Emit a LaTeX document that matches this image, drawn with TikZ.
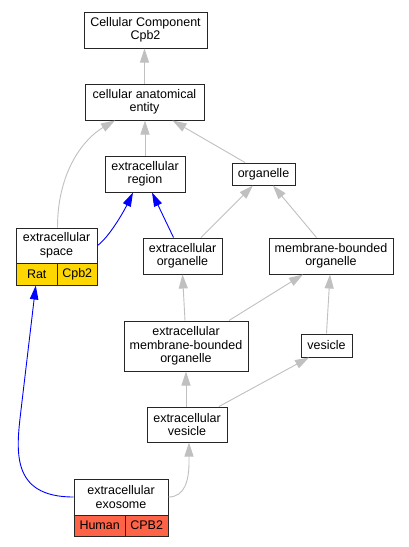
\documentclass[tikz,border=0pt]{standalone}
\usepackage{fontspec}
\setmainfont{Liberation Sans}
\usetikzlibrary{arrows.meta}
\definecolor{edgegray}{HTML}{C0C0C0}
\definecolor{goldfill}{HTML}{FFD700}
\definecolor{tomatofill}{HTML}{FF6347}
\tikzset{
  box/.style={draw=black!85, line width=1pt, fill=white, inner sep=0pt, align=center,
    font=\fontsize{12.5}{13.5}\selectfont},
  isa/.style={draw=edgegray, line width=0.9pt, -{Triangle[length=14pt,width=9pt]}, color=edgegray},
  blueedge/.style={draw=blue, line width=0.9pt, -{Triangle[length=14pt,width=8.5pt]}, color=blue},
}
\begin{document}
\begin{tikzpicture}[x=1pt,y=-1pt]
\useasboundingbox[fill=white] (0,0) rectangle (408,547);
% nodes
\node[box, minimum width=123, minimum height=36] (cc) at (145.5,30) {Cellular Component\\Cpb2};
\node[box, minimum width=119, minimum height=36] (cae) at (144.5,102) {cellular anatomical\\entity};
\node[box, minimum width=80, minimum height=36] (er) at (145,174) {extracellular\\region};
\node[box, minimum width=63, minimum height=22] (org) at (263.5,174) {organelle};
\node[box, minimum width=81, minimum height=35] (spc) at (56.5,245.5) {extracellular\\space};
\node[box, fill=goldfill, minimum width=41.5, minimum height=22] (rat) at (36.75,274) {Rat};
\node[box, fill=goldfill, minimum width=39.5, minimum height=22] (ratg) at (77.25,274) {Cpb2};
\node[box, minimum width=79, minimum height=36] (eo) at (182.5,256) {extracellular\\organelle};
\node[box, minimum width=124, minimum height=36] (mbo) at (331,256) {membrane-bounded\\organelle};
\node[box, minimum width=124, minimum height=50] (embo) at (186,346) {extracellular\\membrane-bounded\\organelle};
\node[box, minimum width=51, minimum height=23] (ves) at (326.5,345.5) {vesicle};
\node[box, minimum width=80, minimum height=35] (ev) at (187,424.5) {extracellular\\vesicle};
\node[box, minimum width=94, minimum height=36] (exo) at (121,497) {extracellular\\exosome};
\node[box, fill=tomatofill, minimum width=51.3, minimum height=21] (hum) at (99.65,525.5) {Human};
\node[box, fill=tomatofill, minimum width=42.7, minimum height=21] (humg) at (146.65,525.5) {CPB2};
% edges
\draw[isa] (cae.north) -- (cae.north |- cc.south);
\draw[isa] (er.north) -- (er.north |- cae.south);
\draw[isa] ([xshift=-18.5]org.north) -- ([xshift=28]cae.south);
\draw[isa] ([xshift=1]spc.north) .. controls (57.5,170) and (85,138) .. ([xshift=-29.5]cae.south);
\draw[blueedge] (spc.east) .. controls (108,238) and (122,215) .. ([xshift=-12]er.south);
\draw[blueedge] ([xshift=-9]eo.north) -- ([xshift=7]er.south);
\draw[isa] ([xshift=18.5]eo.north) -- ([xshift=-10.5]org.south);
\draw[isa] ([xshift=-14.5]mbo.north) -- ([xshift=9.5]org.south);
\draw[isa] ([xshift=-1]embo.north) -- (eo.south);
\draw[isa] ([xshift=43]embo.north) -- ([xshift=-28]mbo.south);
\draw[isa] (ves.north) -- ([xshift=-1]mbo.south);
\draw[isa] ([xshift=-1]ev.north) -- (embo.south);
\draw[isa] ([xshift=32]ev.north) -- ([xshift=-17.5]ves.south);
\draw[isa] (exo.east) .. controls (185,497) and (189,480) .. (189,462) -- ([xshift=2]ev.south);
\draw[blueedge] (exo.west) .. controls (10,497) and (16.3,450) .. (21,410) -- ([xshift=-1]rat.south);
\end{tikzpicture}
\end{document}
